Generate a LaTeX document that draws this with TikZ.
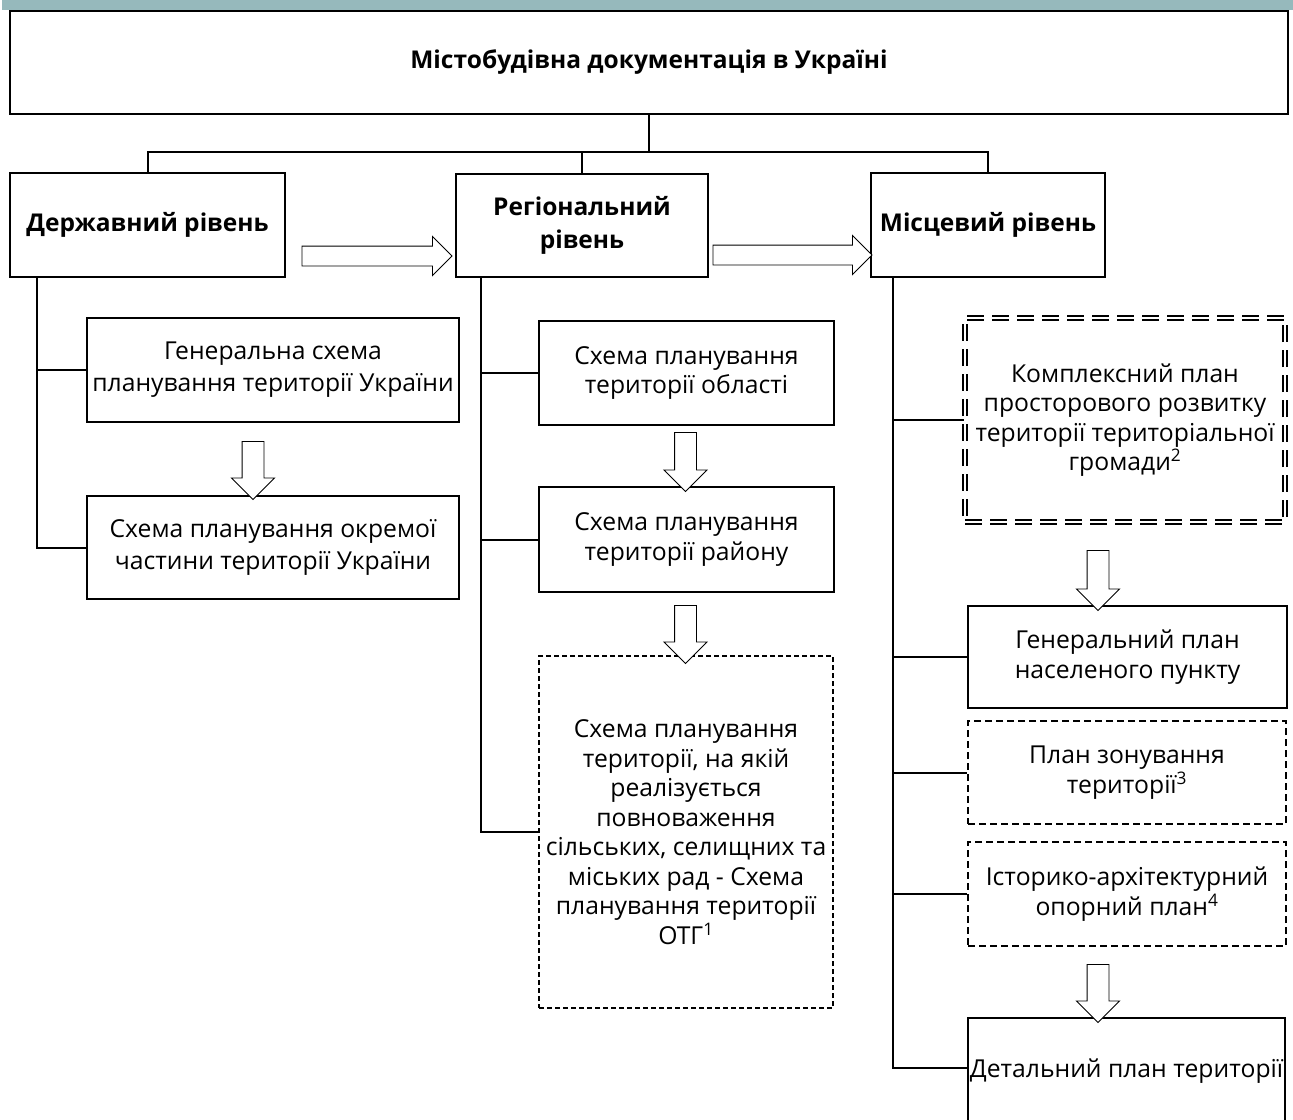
\documentclass[tikz,border=0pt]{standalone}
\usepackage{fontspec}
\setmainfont{Open Sans}
\usepackage{tikz}
\usetikzlibrary{shapes.arrows,positioning,calc}
\definecolor{barcol}{RGB}{150,185,188}

\begin{document}
\begin{tikzpicture}[x=1pt,y=-1pt,
   box/.style={draw,line width=2,inner sep=2,align=center,
      font=\fontsize{24.7}{29.5}\selectfont},
   bigbox/.style={box,font=\fontsize{24.7}{32}\selectfont},
   head/.style={box,font=\bfseries\fontsize{24.5}{33}\selectfont},
   dbox/.style={box,line width=1.7,dash pattern=on 5 off 3},
   rbox/.style={box,line width=1.7,dash pattern=on 7 off 4},
   ddbox/.style={box,line width=1.4,double distance=2.6,dash pattern=on 17 off 8},
   conn/.style={line width=2},
   harrow/.style={draw,single arrow,line width=0.9,inner xsep=0,inner ysep=9.5,
      minimum width=38,single arrow head extend=9.5,fill=white},
   varrow/.style={harrow,shape border rotate=270,inner xsep=10.5,inner ysep=0,
      minimum width=42,single arrow head extend=10.5}]
   \useasboundingbox (0,0) rectangle (1293,1119);
   \fill[barcol] (2,0) rectangle (1293,10);
   \node[head,line width=2.6,minimum width=1278,minimum height=103] (title) at (649,62.5)
      {Містобудівна документація в Україні};
   \node[head,minimum width=275,minimum height=104] (derzh) at (147.5,225) {Державний рівень};
   \node[head,minimum width=252,minimum height=103] (reg) at (582,225.5) {Регіональний\\рівень};
   \node[head,minimum width=234,minimum height=104] (misc) at (988,225) {Місцевий рівень};

   \node[bigbox,minimum width=372,minimum height=104] (gsh) at (273,370)
      {Генеральна схема\\планування території України};
   \node[bigbox,minimum width=372,minimum height=103] (okr) at (273,547.5)
      {Схема планування окремої\\частини території України};

   \node[box,minimum width=295,minimum height=104] (obl) at (686.5,373)
      {Схема планування\\території області};
   \node[box,minimum width=295,minimum height=105] (rai) at (686.5,539.5)
      {Схема планування\\території району};
   \node[dbox,minimum width=294,minimum height=352] (otg) at (686,832)
      {Схема планування\\території, на якій\\реалізується\\повноваження\\сільських, селищних та\\міських рад - Схема\\планування території\\ОТГ\textsuperscript{1}};

   \node[ddbox,minimum width=320,minimum height=204] (kpl) at (1125,420)
      {Комплексний план\\просторового розвитку\\території територіальної\\громади\textsuperscript{2}};
   \node[box,minimum width=319,minimum height=102] (gpl) at (1127.5,657)
      {Генеральний план\\населеного пункту};
   \node[rbox,minimum width=318,minimum height=103] (zon) at (1127,772.5)
      {План зонування\\території\textsuperscript{3}};
   \node[rbox,minimum width=318,minimum height=104] (ist) at (1127,894)
      {Історико-архітектурний\\опорний план\textsuperscript{4}};
   \node[box,inner sep=0,minimum width=317,minimum height=107] (det) at (1126.5,1071.5)
      {Детальний план території};

   \coordinate (bus) at (649,152);
   \draw[conn] (title.south) -- (title.south |- bus);
   \draw[conn] (derzh.north) |- (bus) -| (misc.north);
   \draw[conn] (reg.north) -- (reg.north |- bus);

   \coordinate (lft) at ([xshift=28]derzh.south west);
   \draw[conn] (lft) |- (gsh.west);
   \draw[conn] (lft) |- (okr.west);
   \coordinate (mid) at ([xshift=26]reg.south west);
   \draw[conn] (mid) |- (obl.west);
   \draw[conn] (mid) |- (rai.west);
   \draw[conn] (mid) |- (otg.west);
   \coordinate (rgt) at ([xshift=23]misc.south west);
   \draw[conn] (rgt) |- (kpl.west);
   \draw[conn] (rgt) |- (gpl.west);
   \draw[conn] (rgt) |- (zon.west);
   \draw[conn] (rgt) |- (ist.west);
   \draw[conn] (rgt) |- ([yshift=4]det.west);

   \node[harrow,minimum height=150] (a1) at (372,256) {};
   \node[harrow,minimum height=159] (a2) at (787.5,255) {};
   \node[varrow,minimum height=58] (d1) at (253,465) {};
   \node[varrow,minimum height=59] (d2) at (685.5,456.5) {};
   \node[varrow,minimum height=58] (d3) at (685.5,629) {};
   \node[varrow,minimum height=60] (d4) at (1098,575) {};
   \node[varrow,minimum height=58] (d5) at (1098,988) {};
\end{tikzpicture}
\end{document}
